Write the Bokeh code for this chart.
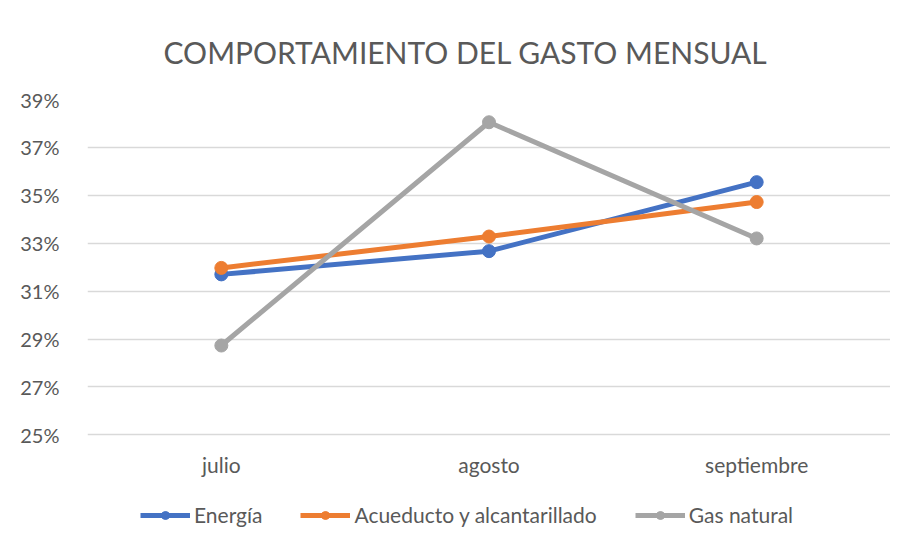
from bokeh.plotting import figure
from bokeh.models import FixedTicker, NumeralTickFormatter, Legend, LegendItem, Range1d, FactorRange
from bokeh.embed import file_html
from bokeh.resources import INLINE

months = ["julio", "agosto", "septiembre"]
energia = [0.3170, 0.3267, 0.3555]
acueducto = [0.3197, 0.3328, 0.3472]
gas_natural = [0.2873, 0.3805, 0.3320]
y_ticks = [0.25, 0.27, 0.29, 0.31, 0.33, 0.35, 0.37, 0.39]

FONT = "Lato"
TXT = "#595959"

p = figure(frame_width=803, frame_height=436, x_range=FactorRange(*months, range_padding=0),
           y_range=Range1d(0.208, 0.39), output_backend="svg", toolbar_location=None,
           min_border_left=87, min_border_right=0, min_border_top=99, min_border_bottom=5)

p.title.text = "COMPORTAMIENTO DEL GASTO MENSUAL"
p.title.align = "left"
p.title.text_font = FONT
p.title.text_font_style = "normal"
p.title.text_font_size = "30px"
p.title.text_color = TXT
p.title.offset = 76
p.title.standoff = 60

p.outline_line_color = None
p.xgrid.grid_line_color = None
p.ygrid.grid_line_color = "#D9D9D9"
p.ygrid.grid_line_width = 1.5
p.yaxis.ticker = FixedTicker(ticks=y_ticks)
p.yaxis.formatter = NumeralTickFormatter(format="0%")
for ax in (p.xaxis[0], p.yaxis[0]):
    ax.axis_line_color = None
    ax.major_tick_line_color = None
    ax.minor_tick_line_color = None
    ax.major_label_text_font = FONT
    ax.major_label_text_color = TXT
p.yaxis.major_label_text_font_size = "20px"
p.xaxis.major_label_text_font_size = "21px"
p.yaxis.major_label_standoff = 22
p.xaxis.major_label_standoff = -90

series = [("Energía", energia, "#4472C4"),
          ("Acueducto y alcantarillado", acueducto, "#ED7D31"),
          ("Gas natural", gas_natural, "#A5A5A5")]
items = []
for name, vals, col in series:
    l = p.line(months, vals, line_color=col, line_width=5)
    s = p.scatter(months, vals, size=13, fill_color=col, line_color=col)
    items.append(LegendItem(label=name, renderers=[l, s]))

legend = Legend(items=items, orientation="horizontal", location=(53, 8),
                label_text_font=FONT, label_text_font_size="21px", label_text_color=TXT,
                glyph_width=50, spacing=38, label_standoff=4,
                border_line_color=None, background_fill_alpha=0, margin=0, padding=0)
p.add_layout(legend)

open("out.html", "w").write(file_html(p, INLINE))
